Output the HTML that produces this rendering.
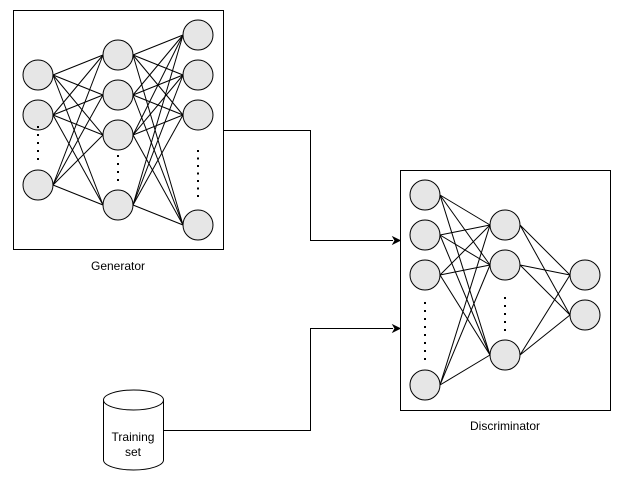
<!DOCTYPE html>
<html><head><meta charset="utf-8"><style>body{margin:0;background:#fff}svg{display:block}</style></head>
<body>
<svg id="s" width="620" height="481" xmlns="http://www.w3.org/2000/svg" font-family="Liberation Sans, sans-serif">
<rect x="0" y="0" width="620" height="481" fill="#fff"/>
<rect x="13.5" y="10.5" width="210" height="239" fill="#fff" stroke="#000"/>
<rect x="400.5" y="170.5" width="210" height="240" fill="#fff" stroke="#000"/>
<g id="edges" stroke="#000" stroke-width="1"></g>
<g id="nodes" fill="#e6e6e6" stroke="#000" stroke-width="1"></g>
<g id="dots" fill="#000"></g>
<path d="M223.5 130.5H310.5V240.5H393" fill="none" stroke="#000"/>
<path d="M400 240.5l-7-3.5 2 3.5-2 3.5z" fill="#000" stroke="#000"/>
<path d="M163.5 430.5H310.5V328.5H393" fill="none" stroke="#000"/>
<path d="M400 328.5l-7-3.5 2 3.5-2 3.5z" fill="#000" stroke="#000"/>
<path d="M103.5 400V460A30 10 0 0 0 163.5 460V400" fill="#fff" stroke="#000"/>
<ellipse cx="133.5" cy="400" rx="30" ry="10" fill="#fff" stroke="#000"/>
<text x="133" y="441" font-size="12" text-anchor="middle">Training</text>
<text x="133" y="456" font-size="12" text-anchor="middle">set</text>
<text x="118" y="270" font-size="12" text-anchor="middle">Generator</text>
<text x="505" y="430" font-size="12" text-anchor="middle">Discriminator</text>
</svg>
<script>
var NS="http://www.w3.org/2000/svg";
function el(p,t,a){var e=document.createElementNS(NS,t);for(var k in a)e.setAttribute(k,a[k]);document.getElementById(p).appendChild(e);}
function net(layers){
 for(var i=0;i<layers.length-1;i++){var A=layers[i],B=layers[i+1];
  A.ys.forEach(function(y1){B.ys.forEach(function(y2){el("edges","line",{x1:A.x+15,y1:y1,x2:B.x-15,y2:y2});});});}
 layers.forEach(function(L){L.ys.forEach(function(y){el("nodes","circle",{cx:L.x,cy:y,r:15});});
  if(L.d){for(var y=L.d[0];y<=L.d[1];y+=L.d[2])el("dots","rect",{x:L.x-1,y:y,width:2,height:2});}});
}
net([{x:38,ys:[75,115,185],d:[126,160,8]},{x:118,ys:[55,95,135,205],d:[155,180,8]},{x:198,ys:[35,75,115,225],d:[150,200,7.5]}]);
net([{x:425,ys:[195,235,275,385],d:[302,362,8]},{x:505,ys:[225,265,355],d:[297,330,8]},{x:585,ys:[275,315]}]);
</script>
</body></html>
